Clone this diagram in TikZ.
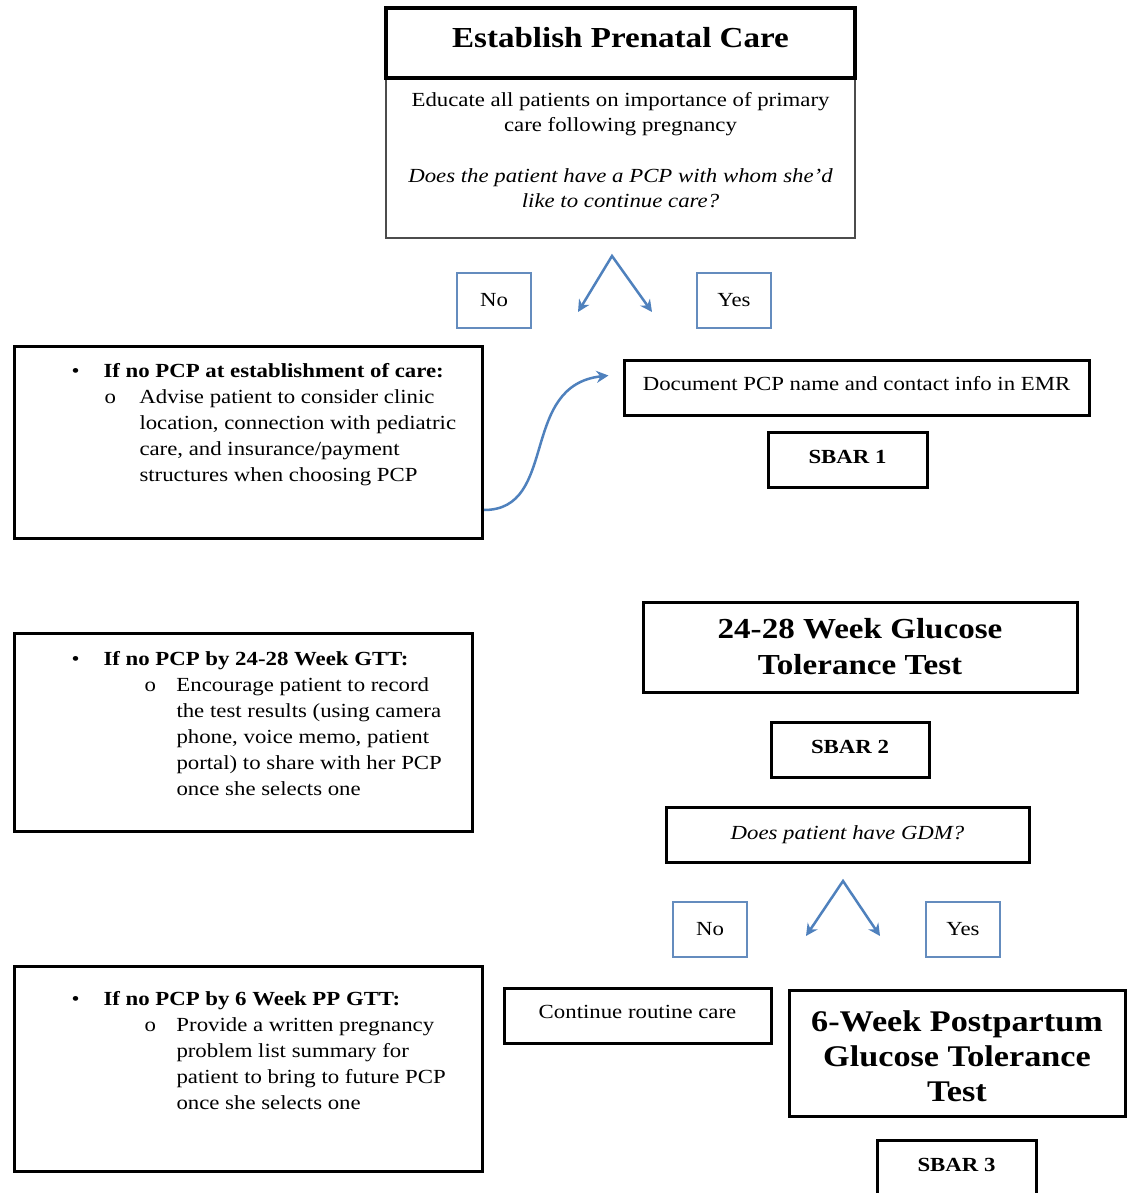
\documentclass[tikz,border=0pt]{standalone}
\usepackage{fontspec}
\setmainfont{Liberation Serif}[FakeStretch=1.14]
\usetikzlibrary{arrows.meta}
\definecolor{obl}{RGB}{79,129,189}
\definecolor{ynb}{RGB}{100,140,190}
\begin{document}
\begin{tikzpicture}[x=1pt,y=-1pt,
  box/.style={draw=black, line width=2.8pt, rectangle, inner sep=0pt, align=center},
  ynbox/.style={draw=ynb, line width=2pt, rectangle, minimum width=74pt, minimum height=55pt, inner sep=0pt, font=\fontsize{20}{24}\selectfont},
  bodyfont/.style={font=\fontsize{20}{25}\selectfont},
  bigfont/.style={font=\bfseries\fontsize{29}{36}\selectfont},
  barrow/.style={draw=obl, line width=2.5pt, -{Stealth[length=12pt,width=12pt]}},
  chev/.style={draw=obl, line width=2.5pt, line join=miter, {Stealth[length=12pt,width=12pt]}-{Stealth[length=12pt,width=12pt]}},
]
\useasboundingbox (0,0) rectangle (1127,1193);
\fill[white] (0,0) rectangle (1127,1193);
\clip (0,0) rectangle (1127,1193);

% top block
\node[box, draw=black!70, line width=2pt, minimum width=469pt, minimum height=160pt] (tbody) at (620.5,158) {};
\node[bodyfont, align=center] (tbtext) at (620.5,150) {Educate all patients on importance of primary\\ care following pregnancy\\[26pt] \textit{Does the patient have a PCP with whom she’d}\\ \textit{like to continue care?}};
\node[box, line width=3.5pt, minimum width=469pt, minimum height=70pt, bigfont, text depth=11pt] (title) at (620.5,43) {Establish Prenatal Care};

\node[ynbox] (no1) at (494,300.5) {No};
\node[ynbox] (yes1) at (734,300.5) {Yes};
\coordinate (ap1) at (612,256);
\coordinate (l1) at (578,312);
\coordinate (r1) at (652,312);
\draw[chev] (l1) -- (ap1) -- (r1);

% left box 1
\node[box, line width=3pt, anchor=north west] (lb1) at (13,345) {\parbox[t][192pt][t]{468pt}{\fontsize{20}{26}\selectfont\raggedright
\vspace*{17pt}
\hspace*{57pt}\makebox[32pt][l]{•}\textbf{If no PCP at establishment of care:}\par
{\leftskip=125pt\hspace*{-35pt}\makebox[35pt][l]{o}Advise patient to consider clinic\\location, connection with pediatric\\care, and insurance/payment\\structures when choosing PCP\par}}};

\node[box, line width=3pt, minimum width=465pt, minimum height=55pt, font=\fontsize{20}{24}\selectfont, text depth=8pt] (doc) at (856.5,387.5) {Document PCP name and contact info in EMR};
\node[box, line width=3pt, minimum width=159pt, minimum height=55pt, font=\bfseries\fontsize{20}{24}\selectfont, text depth=6pt] (sbar1) at (847.5,459.5) {SBAR 1};

\draw[barrow] ([yshift=30pt]lb1.south east) .. controls +(75,0) and +(-90,10) .. ([xshift=-14pt,yshift=12pt]doc.west);

% left box 2
\node[box, line width=3pt, anchor=north west] (lb2) at (13,632) {\parbox[t][198pt][t]{458pt}{\fontsize{20}{26}\selectfont\raggedright
\vspace*{18pt}
\hspace*{57pt}\makebox[32pt][l]{•}\textbf{If no PCP by 24-28 Week GTT:}\par
{\leftskip=162pt\hspace*{-32pt}\makebox[32pt][l]{o}Encourage patient to record\\the test results (using camera\\phone, voice memo, patient\\portal) to share with her PCP\\once she selects one\par}}};

% middle right
\node[box, line width=3pt, minimum width=434pt, minimum height=90pt, bigfont] (gtt) at (860,647) {24-28 Week Glucose\\Tolerance Test};
\node[box, line width=3pt, minimum width=158pt, minimum height=55pt, font=\bfseries\fontsize{20}{24}\selectfont, text depth=6pt] (sbar2) at (850,749.5) {SBAR 2};
\node[box, line width=3pt, minimum width=363pt, minimum height=55pt, font=\itshape\fontsize{20}{24}\selectfont] (gdm) at (847.5,834.5) {Does patient have GDM?};

\node[ynbox] (no2) at (710,929.5) {No};
\node[ynbox] (yes2) at (963,929.5) {Yes};
\coordinate (ap2) at (843,881);
\coordinate (l2) at (806,936);
\coordinate (r2) at (880,936);
\draw[chev] (l2) -- (ap2) -- (r2);

\node[box, line width=3pt, minimum width=267pt, minimum height=55pt, font=\fontsize{20}{24}\selectfont, text depth=8pt] (cont) at (637.5,1015.5) {Continue routine care};
\node[box, line width=3pt, minimum width=336pt, minimum height=126pt] (pp) at (957,1053) {};
\node[align=center, font=\bfseries\fontsize{30}{35}\selectfont] (pptext) at (957,1056) {6-Week Postpartum\\Glucose Tolerance\\Test};
\node[box, line width=3pt, minimum width=159pt, minimum height=55pt, font=\bfseries\fontsize{20}{24}\selectfont, text depth=6pt] (sbar3) at (956.5,1167.5) {SBAR 3};

% left box 3
\node[box, line width=3pt, anchor=north west] (lb3) at (13,965) {\parbox[t][205pt][t]{468pt}{\fontsize{20}{26}\selectfont\raggedright
\vspace*{25pt}
\hspace*{57pt}\makebox[32pt][l]{•}\textbf{If no PCP by 6 Week PP GTT:}\par
{\leftskip=162pt\hspace*{-32pt}\makebox[32pt][l]{o}Provide a written pregnancy\\problem list summary for\\patient to bring to future PCP\\once she selects one\par}}};
\end{tikzpicture}
\end{document}
